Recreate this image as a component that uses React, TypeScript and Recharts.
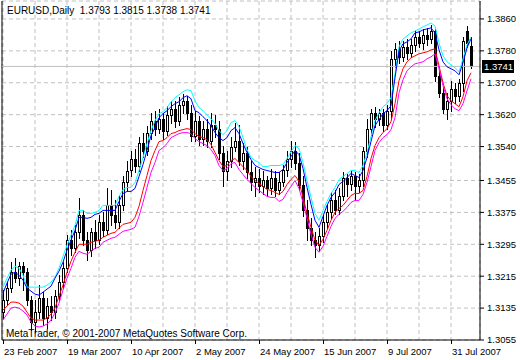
import React from 'react';
import { ComposedChart, Bar, Line, XAxis, YAxis, CartesianGrid, ReferenceLine } from 'recharts';

// EURUSD daily, 23 Feb 2007 .. 7 Aug 2007
const dateLabels = ['23 Feb 2007', '19 Mar 2007', '10 Apr 2007', '2 May 2007', '24 May 2007', '15 Jun 2007', '9 Jul 2007', '31 Jul 2007'];
const priceTicks = [1.3055, 1.3135, 1.3215, 1.3295, 1.3375, 1.3455, 1.354, 1.362, 1.37, 1.378, 1.386];

const openPrices = [
  1.3125, 1.3155, 1.3185, 1.3225, 1.321, 1.324, 1.3225, 1.3155, 1.31, 1.3125,
  1.316, 1.311, 1.314, 1.3125, 1.3165, 1.32, 1.3235, 1.3305, 1.3285, 1.3325,
  1.33675, 1.3305, 1.328, 1.3325, 1.3305, 1.335, 1.333, 1.33925, 1.33675, 1.335,
  1.33925, 1.345, 1.348, 1.351, 1.34925, 1.355, 1.353, 1.3575, 1.3605, 1.3585,
  1.361, 1.358, 1.362, 1.3635, 1.3605, 1.3645, 1.3655, 1.3625, 1.35675, 1.3605,
  1.356, 1.3585, 1.3555, 1.3595, 1.3585, 1.3525, 1.348, 1.3505, 1.354, 1.3555,
  1.3505, 1.3525, 1.3475, 1.345, 1.346, 1.344, 1.3455, 1.3435, 1.346, 1.343,
  1.345, 1.348, 1.351, 1.353, 1.35, 1.34425, 1.338, 1.3335, 1.3305, 1.32925,
  1.3315, 1.335, 1.3375, 1.3405, 1.338, 1.3415, 1.346, 1.3445, 1.3465, 1.344,
  1.3455, 1.353, 1.3585, 1.3625, 1.361, 1.3625, 1.3595, 1.363, 1.376, 1.3785,
  1.3765, 1.379, 1.3775, 1.3795, 1.3815, 1.38, 1.382, 1.381, 1.383, 1.37175,
  1.3675, 1.3635, 1.3655, 1.3685, 1.36675, 1.37, 1.383, 1.3793,
];
const highPrices = [
  1.318, 1.32, 1.325, 1.326, 1.325, 1.325, 1.3235, 1.3165, 1.3155, 1.31925,
  1.3175, 1.316, 1.3165, 1.318, 1.32175, 1.325, 1.33175, 1.333, 1.33425, 1.341,
  1.338, 1.3325, 1.3335, 1.3355, 1.33675, 1.3375, 1.3435, 1.343, 1.3405, 1.3415,
  1.3465, 1.3505, 1.353, 1.3535, 1.3565, 1.3575, 1.35925, 1.3625, 1.363, 1.3635,
  1.3625, 1.36425, 1.3655, 1.3655, 1.3665, 1.36725, 1.36675, 1.3645, 1.363, 1.36175,
  1.3605, 1.361, 1.3625, 1.362, 1.3605, 1.35425, 1.353, 1.3565, 1.36, 1.3595,
  1.355, 1.354, 1.3505, 1.349, 1.3485, 1.348, 1.3465, 1.3485, 1.348, 1.3475,
  1.3495, 1.353, 1.3555, 1.35525, 1.3525, 1.3465, 1.3405, 1.336, 1.3325, 1.3335,
  1.33675, 1.33925, 1.3425, 1.343, 1.3435, 1.3475, 1.347, 1.348, 1.3475, 1.347,
  1.354, 1.361, 1.3635, 1.364, 1.3635, 1.3635, 1.3645, 1.378, 1.38, 1.3805,
  1.3805, 1.381, 1.381, 1.383, 1.383, 1.3835, 1.38375, 1.3845, 1.3835, 1.373,
  1.369, 1.3675, 1.3705, 1.37, 1.371, 1.3815, 1.38425, 1.3815,
];
const lowPrices = [
  1.311, 1.31425, 1.3175, 1.32, 1.31925, 1.318, 1.31425, 1.308, 1.3075, 1.311,
  1.30925, 1.3085, 1.3105, 1.311, 1.3155, 1.3185, 1.3225, 1.32675, 1.3275, 1.331,
  1.32925, 1.3255, 1.3265, 1.3285, 1.3295, 1.3315, 1.332, 1.33425, 1.3335, 1.3335,
  1.338, 1.343, 1.3465, 1.3475, 1.348, 1.3515, 1.352, 1.356, 1.357, 1.3575,
  1.356, 1.357, 1.36, 1.359, 1.3595, 1.3625, 1.361, 1.3555, 1.3555, 1.3545,
  1.3545, 1.354, 1.354, 1.3565, 1.351, 1.344, 1.3455, 1.349, 1.353, 1.3495,
  1.3485, 1.346, 1.343, 1.3415, 1.3425, 1.342, 1.3415, 1.342, 1.3415, 1.342,
  1.344, 1.3465, 1.349, 1.3485, 1.343, 1.3365, 1.3305, 1.32925, 1.32625, 1.328,
  1.33, 1.3335, 1.336, 1.337, 1.337, 1.3405, 1.3415, 1.343, 1.3405, 1.3425,
  1.344, 1.3515, 1.357, 1.359, 1.3595, 1.358, 1.3585, 1.361, 1.374, 1.375,
  1.3755, 1.376, 1.3765, 1.378, 1.379, 1.3785, 1.3795, 1.38, 1.3705, 1.3665,
  1.3625, 1.361, 1.363, 1.365, 1.3655, 1.368, 1.379, 1.3738,
];
const closePrices = [
  1.3155, 1.3185, 1.3225, 1.321, 1.324, 1.3225, 1.3155, 1.31, 1.3125, 1.316,
  1.311, 1.314, 1.3125, 1.3165, 1.32, 1.3235, 1.3305, 1.3285, 1.3325, 1.33675,
  1.3305, 1.328, 1.3325, 1.3305, 1.335, 1.333, 1.33925, 1.33675, 1.335, 1.33925,
  1.345, 1.348, 1.351, 1.34925, 1.355, 1.353, 1.3575, 1.3605, 1.3585, 1.361,
  1.358, 1.362, 1.3635, 1.3605, 1.3645, 1.3655, 1.3625, 1.35675, 1.3605, 1.356,
  1.3585, 1.3555, 1.3595, 1.3585, 1.3525, 1.348, 1.3505, 1.354, 1.3555, 1.3505,
  1.3525, 1.3475, 1.345, 1.346, 1.344, 1.3455, 1.3435, 1.346, 1.343, 1.345,
  1.348, 1.351, 1.353, 1.35, 1.34425, 1.338, 1.3335, 1.3305, 1.32925, 1.3315,
  1.335, 1.3375, 1.3405, 1.338, 1.3415, 1.346, 1.3445, 1.3465, 1.344, 1.3455,
  1.353, 1.3585, 1.3625, 1.361, 1.3625, 1.3595, 1.363, 1.376, 1.3785, 1.3765,
  1.379, 1.3775, 1.3795, 1.3815, 1.38, 1.382, 1.381, 1.383, 1.37175, 1.3675,
  1.3635, 1.3655, 1.3685, 1.36675, 1.37, 1.3805, 1.38, 1.3741,
];

// indicator lines (upper pair cyan/blue, lower pair red/magenta)
const cyanLine = [
  1.31875, 1.321, 1.323, 1.324, 1.3235, 1.32175, 1.31875, 1.31875, 1.31875, 1.31875,
  1.31875, 1.31925, 1.32, 1.32125, 1.3235, 1.3265, 1.32925, 1.33175, 1.33425, 1.338,
  1.338, 1.33725, 1.33725, 1.3375, 1.338, 1.33925, 1.33925, 1.33925, 1.33925, 1.3415,
  1.34325, 1.34375, 1.34375, 1.345, 1.348, 1.35125, 1.35475, 1.358, 1.3605, 1.36225,
  1.36275, 1.36375, 1.36525, 1.36625, 1.367, 1.36775, 1.36825, 1.368, 1.3655, 1.36375,
  1.363, 1.362, 1.361, 1.35975, 1.358, 1.357, 1.358, 1.36, 1.3605, 1.359,
  1.35625, 1.35325, 1.35125, 1.3505, 1.35, 1.349, 1.349, 1.34925, 1.34925, 1.34925,
  1.3495, 1.351, 1.35275, 1.35425, 1.3535, 1.35, 1.3455, 1.34125, 1.33725, 1.3355,
  1.338, 1.34025, 1.34225, 1.34375, 1.34575, 1.3465, 1.34725, 1.348, 1.348, 1.3475,
  1.34925, 1.3525, 1.3565, 1.3605, 1.3625, 1.364, 1.36475, 1.36625, 1.37225, 1.379,
  1.381, 1.38175, 1.3825, 1.383, 1.3835, 1.384, 1.3845, 1.385, 1.38425, 1.38,
  1.37675, 1.37525, 1.3745, 1.37375, 1.37275, 1.376, 1.3795, 1.3815,
];
const blueLine = [
  1.31725, 1.31975, 1.322, 1.3225, 1.32175, 1.3205, 1.3185, 1.31775, 1.317, 1.31675,
  1.3175, 1.31825, 1.319, 1.321, 1.32275, 1.325, 1.328, 1.3305, 1.333, 1.33625,
  1.33625, 1.336, 1.33625, 1.337, 1.33725, 1.338, 1.338, 1.338, 1.338, 1.34025,
  1.34225, 1.34275, 1.34275, 1.3435, 1.3465, 1.3495, 1.353, 1.35675, 1.35875, 1.36125,
  1.36225, 1.363, 1.364, 1.36475, 1.36525, 1.36625, 1.36675, 1.366, 1.363, 1.3625,
  1.3615, 1.3605, 1.35925, 1.3575, 1.35625, 1.3555, 1.35625, 1.358, 1.35875, 1.35725,
  1.35475, 1.3525, 1.35075, 1.34925, 1.34875, 1.34825, 1.348, 1.34775, 1.3475, 1.3475,
  1.34825, 1.35, 1.3515, 1.353, 1.352, 1.3485, 1.34375, 1.3395, 1.3355, 1.33375,
  1.3365, 1.33925, 1.34125, 1.3425, 1.3445, 1.34525, 1.34625, 1.34725, 1.34675, 1.34625,
  1.348, 1.35125, 1.35525, 1.35925, 1.36075, 1.36225, 1.363, 1.36425, 1.37125, 1.378,
  1.37975, 1.38025, 1.381, 1.3825, 1.38275, 1.38325, 1.3835, 1.38375, 1.3825, 1.37825,
  1.37525, 1.374, 1.3735, 1.373, 1.372, 1.375, 1.37875, 1.381,
];
const redLine = [
  1.313, 1.314, 1.315, 1.315, 1.31475, 1.314, 1.3125, 1.311, 1.3105, 1.3105,
  1.3105, 1.311, 1.312, 1.3135, 1.3165, 1.31925, 1.3225, 1.32525, 1.3275, 1.3295,
  1.3295, 1.3295, 1.33, 1.33025, 1.3305, 1.33125, 1.33175, 1.33225, 1.3325, 1.3335,
  1.3345, 1.33475, 1.335, 1.33625, 1.339, 1.343, 1.34675, 1.3505, 1.353, 1.35525,
  1.3555, 1.35625, 1.35725, 1.3575, 1.358, 1.35825, 1.3585, 1.35825, 1.35725, 1.3565,
  1.35625, 1.35575, 1.3545, 1.3525, 1.3505, 1.349, 1.34925, 1.3505, 1.351, 1.35,
  1.349, 1.348, 1.3465, 1.3455, 1.34475, 1.344, 1.34325, 1.343, 1.3425, 1.342,
  1.34275, 1.3445, 1.34575, 1.34675, 1.34525, 1.34125, 1.33725, 1.33375, 1.3305, 1.32925,
  1.33075, 1.333, 1.3355, 1.3375, 1.3385, 1.33925, 1.3405, 1.34175, 1.34225, 1.34225,
  1.343, 1.3465, 1.351, 1.35425, 1.35625, 1.3575, 1.3585, 1.36025, 1.36475, 1.3705,
  1.3735, 1.37525, 1.37625, 1.37675, 1.37725, 1.3775, 1.37775, 1.37825, 1.3785, 1.37425,
  1.37, 1.36675, 1.3655, 1.36475, 1.364, 1.3665, 1.3705, 1.3725,
];
const magentaLine = [
  1.3105, 1.312, 1.3135, 1.31375, 1.3135, 1.31275, 1.31175, 1.31, 1.309, 1.30875,
  1.309, 1.3095, 1.3105, 1.31225, 1.31475, 1.318, 1.321, 1.3235, 1.32625, 1.32775,
  1.32725, 1.327, 1.32775, 1.3285, 1.32875, 1.33, 1.3305, 1.331, 1.33125, 1.332,
  1.33275, 1.333, 1.33325, 1.33375, 1.3365, 1.34, 1.34375, 1.3475, 1.35, 1.353,
  1.35375, 1.35475, 1.35625, 1.35675, 1.35725, 1.3575, 1.3575, 1.35725, 1.356, 1.35525,
  1.35475, 1.35425, 1.35325, 1.35175, 1.34925, 1.348, 1.3485, 1.34975, 1.35, 1.34825,
  1.347, 1.34575, 1.34475, 1.34375, 1.343, 1.34225, 1.3415, 1.34125, 1.34125, 1.34025,
  1.34075, 1.3425, 1.344, 1.3455, 1.3435, 1.34, 1.336, 1.332, 1.32875, 1.3275,
  1.329, 1.3315, 1.334, 1.336, 1.337, 1.33775, 1.33875, 1.34, 1.3405, 1.3405,
  1.342, 1.345, 1.349, 1.353, 1.355, 1.35625, 1.357, 1.35825, 1.36125, 1.3675,
  1.37075, 1.373, 1.374, 1.37475, 1.375, 1.37525, 1.376, 1.3765, 1.37725, 1.3735,
  1.36925, 1.366, 1.3645, 1.3635, 1.363, 1.36475, 1.368, 1.371,
];

const FONT = '"Liberation Sans", Arial, sans-serif';
const GRID = '#c0c0c0';

const chartData = closePrices.map((close, i) => ({
  bar: i,
  open: openPrices[i],
  high: highPrices[i],
  low: lowPrices[i],
  close,
  range: [lowPrices[i], highPrices[i]],
  cyan: cyanLine[i],
  blue: blueLine[i],
  red: redLine[i],
  magenta: magentaLine[i],
}));

const lastClose = closePrices[closePrices.length - 1];
const gridTicks = chartData.filter(d => d.bar % 8 === 0).map(d => d.bar);

// candle drawn inside the low..high range bar
const Candle = (props: any) => {
  const { x, y, width, height, payload } = props;
  if (x == null || y == null || !payload) return null;
  const { open, close, high, low } = payload;
  const top = height >= 0 ? y : y + height;
  const span = Math.abs(height);
  const ratio = span / (high - low || 1);
  const yOf = (v: number) => top + (high - v) * ratio;
  const c = Math.round(x + width / 2);
  const bodyTop = Math.round(yOf(Math.max(open, close)));
  const bodyBot = Math.round(yOf(Math.min(open, close)));
  const bull = close > open;
  return (
    <g>
      <line x1={c + 0.5} x2={c + 0.5} y1={Math.round(top)} y2={Math.round(top + span) + 1} stroke="#000" strokeWidth={1} />
      {bull ? (
        <rect x={c - 0.5} y={bodyTop + 0.5} width={2} height={Math.max(1, bodyBot - bodyTop)} fill="#fff" stroke="#000" strokeWidth={1} />
      ) : (
        <rect x={c - 1} y={bodyTop} width={3} height={Math.max(1, bodyBot - bodyTop + 1)} fill="#000" />
      )}
    </g>
  );
};

const DateTick = (props: any) => {
  const { x, y, payload } = props;
  const k = payload.value;
  if (k % 16 !== 0) return <g />;
  return (
    <g>
      <line x1={Math.round(x) + 0.5} x2={Math.round(x) + 0.5} y1={y} y2={y + 4} stroke="#000" />
      <text x={x + 1} y={y + 15} fill="#000" fontSize={9.5} fontFamily={FONT}>
        {dateLabels[k / 16]}
      </text>
    </g>
  );
};

const BidLabel = (props: any) => {
  const { viewBox } = props;
  if (!viewBox) return null;
  const right = viewBox.x + viewBox.width;
  const yy = Math.round(viewBox.y);
  return (
    <g>
      <rect x={right + 2} y={yy - 6} width={32} height={13} fill="#000" />
      <text x={right + 4} y={yy + 4} fill="#fff" fontSize={9.5} fontFamily={FONT}>
        {lastClose.toFixed(4)}
      </text>
    </g>
  );
};

const App: React.FC = () => {
  return (
    <div style={{ position: 'absolute', left: 0, top: 0, width: 520, height: 360, background: '#fff' }}>
      <ComposedChart width={520} height={360} data={chartData} margin={{ top: 1, right: 0, bottom: 0, left: 2 }}>
        <CartesianGrid stroke={GRID} strokeDasharray="4 3" />
        <XAxis
          dataKey="bar"
          type="number"
          domain={[-0.25, 119.25]}
          ticks={gridTicks}
          interval={0}
          height={20}
          tickSize={0}
          tickMargin={0}
          tickLine={false}
          axisLine={{ stroke: '#000' }}
          tick={<DateTick />}
          allowDataOverflow
        />
        <YAxis
          orientation="right"
          type="number"
          domain={[1.3055, 1.3905]}
          ticks={priceTicks}
          interval={0}
          width={40}
          tickSize={4}
          tickMargin={3}
          tickLine={{ stroke: '#000' }}
          axisLine={{ stroke: '#000' }}
          tick={{ fill: '#000', fontSize: 9.5, fontFamily: FONT }}
          tickFormatter={(v: number) => v.toFixed(4)}
          allowDataOverflow
        />
        <ReferenceLine x={-0.25} stroke="#000" />
        <ReferenceLine y={lastClose} stroke={GRID} label={<BidLabel />} />
        <Bar dataKey="range" barSize={3} shape={<Candle />} isAnimationActive={false} />
        <Line type="linear" dataKey="cyan" stroke="#00ffff" strokeWidth={1} dot={false} activeDot={false} isAnimationActive={false} />
        <Line type="linear" dataKey="blue" stroke="#0000ff" strokeWidth={1} dot={false} activeDot={false} isAnimationActive={false} />
        <Line type="linear" dataKey="red" stroke="#ff0000" strokeWidth={1} dot={false} activeDot={false} isAnimationActive={false} />
        <Line type="linear" dataKey="magenta" stroke="#ff00ff" strokeWidth={1} dot={false} activeDot={false} isAnimationActive={false} />
      </ComposedChart>
      <div style={{ position: 'absolute', left: 7, top: 6, fontFamily: FONT, fontSize: 10, lineHeight: '10px', whiteSpace: 'pre', color: '#000' }}>
        {'EURUSD,Daily  1.3793 1.3815 1.3738 1.3741'}
      </div>
      <div style={{ position: 'absolute', left: 6, top: 329, fontFamily: FONT, fontSize: 10, lineHeight: '10px', whiteSpace: 'pre', color: '#000' }}>
        {'MetaTrader, © 2001-2007 MetaQuotes Software Corp.'}
      </div>
    </div>
  );
};

export default App;
